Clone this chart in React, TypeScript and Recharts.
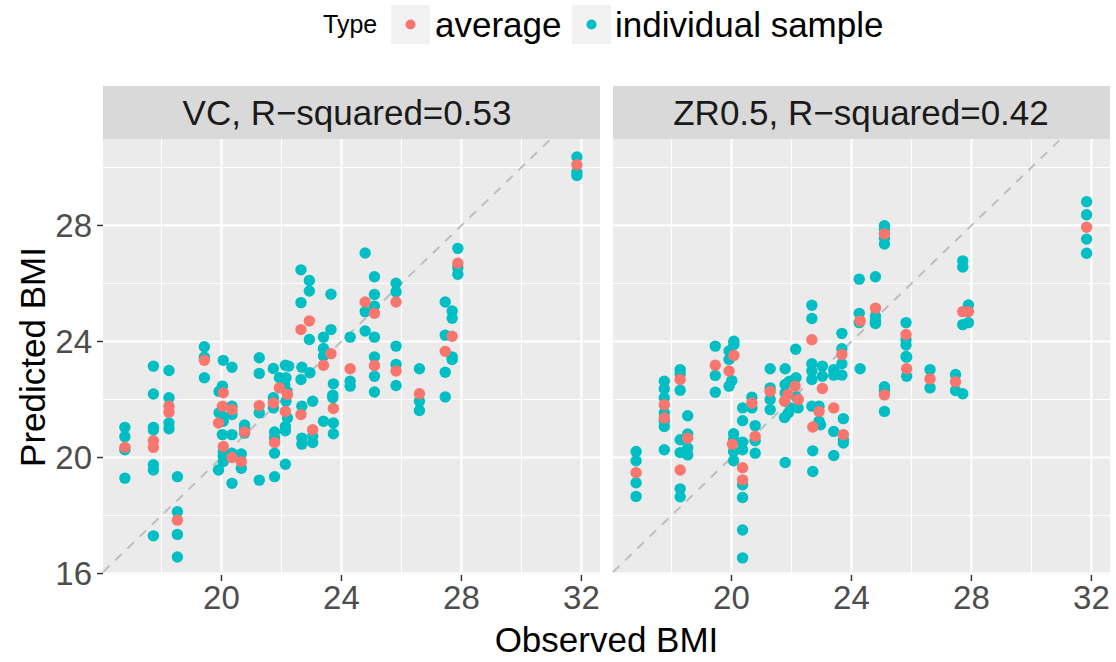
import React from 'react';
import { ScatterChart, Scatter, XAxis, YAxis, ReferenceLine, CartesianGrid } from 'recharts';

// ---------- data ----------
const xTicks = [20, 24, 28, 32];
const yTicks = [16, 20, 24, 28];
const minorTicks = [18, 22, 26, 30];
const xDomain = [16.05, 32.62];
const yDomain = [15.95, 30.98];
const panelTitles = ['VC, R\u2212squared=0.53', 'ZR0.5, R\u2212squared=0.42'];
const legendTitle = 'Type';
const legendLabels = ['average', 'individual sample'];
const colors = ['#F8766D', '#00BFC4'];

const vcAverage = [
  [16.78, 20.35], [17.73, 20.58], [17.73, 20.35], [18.25, 21.77], [18.25, 21.56], [18.53, 17.84],
  [19.43, 23.35], [20.06, 22.23], [20.03, 21.77], [19.9, 21.19], [20.06, 20.38], [20.35, 21.65],
  [20.35, 20.0], [20.66, 19.86], [20.77, 20.88], [21.26, 21.79], [21.73, 21.88], [21.77, 20.52],
  [21.93, 22.4], [22.2, 22.17], [22.13, 21.59], [22.65, 24.41], [22.65, 21.48], [22.93, 24.71],
  [23.04, 20.96], [23.4, 23.18], [23.65, 23.58], [23.73, 21.69], [24.29, 23.06], [24.79, 25.36],
  [25.1, 24.97], [25.1, 23.17], [25.82, 25.36], [25.82, 22.98], [26.6, 22.2], [27.46, 23.66],
  [27.69, 24.18], [27.88, 26.7], [31.85, 30.09],
];

const vcSample = [
  [16.78, 21.04], [16.78, 20.72], [16.78, 20.27], [16.78, 19.29],
  [17.73, 23.15], [17.73, 22.19], [17.73, 21.04], [17.73, 20.95], [17.73, 19.75], [17.73, 19.57], [17.73, 17.3],
  [18.25, 23.0], [18.25, 22.06], [18.25, 21.19], [18.25, 20.99],
  [18.53, 19.34], [18.53, 18.13], [18.53, 17.35], [18.53, 16.57],
  [19.43, 23.82], [19.43, 23.46], [19.43, 22.75],
  [20.06, 23.35], [20.03, 22.46], [19.92, 22.28], [19.92, 21.54], [20.03, 21.42], [20.06, 21.25],
  [20.03, 20.79], [20.06, 20.2], [20.06, 20.05], [20.06, 19.86], [19.9, 19.57],
  [20.35, 23.11], [20.35, 21.77], [20.35, 21.48], [20.35, 20.79], [20.35, 20.15], [20.35, 19.11],
  [20.66, 20.12], [20.66, 19.63],
  [20.77, 21.12], [20.77, 21.02], [20.77, 20.84],
  [21.26, 23.44], [21.26, 22.9], [21.26, 21.54], [21.26, 19.22],
  [21.73, 23.07], [21.73, 22.06], [21.73, 21.71],
  [21.77, 20.88], [21.77, 20.67], [21.77, 20.15], [21.77, 19.34],
  [22.13, 23.18], [22.24, 23.15], [21.93, 22.75], [22.15, 22.75], [22.11, 22.5], [22.15, 21.94],
  [22.18, 22.28], [22.2, 21.36], [22.13, 21.07], [22.13, 20.92], [22.13, 19.77],
  [22.65, 26.47], [22.65, 25.34], [22.68, 23.11], [22.65, 22.69], [22.68, 21.77], [22.68, 20.67], [22.68, 20.46],
  [22.93, 26.1], [22.93, 25.74], [22.93, 24.07], [22.95, 22.92],
  [23.04, 21.94], [23.04, 20.73], [23.04, 20.52],
  [23.4, 24.15], [23.4, 23.76], [23.4, 23.5], [23.4, 21.25],
  [23.65, 25.63], [23.65, 24.41],
  [23.73, 22.54], [23.71, 22.15], [23.71, 22.06], [23.73, 21.19], [23.73, 20.82],
  [24.29, 24.15], [24.29, 22.63], [24.29, 22.46],
  [24.79, 27.05], [24.79, 25.03], [24.79, 24.36],
  [25.1, 26.23], [25.1, 25.62], [25.1, 25.22], [25.1, 24.15], [25.1, 23.47], [25.1, 22.8], [25.1, 22.26],
  [25.82, 26.01], [25.82, 25.71], [25.82, 23.84], [25.82, 23.21], [25.82, 22.48],
  [26.6, 23.06], [26.6, 21.94], [26.6, 21.62],
  [27.46, 25.36], [27.46, 24.22], [27.46, 22.94], [27.46, 22.09],
  [27.69, 25.05], [27.69, 24.8], [27.69, 23.47], [27.69, 23.38],
  [27.88, 27.21], [27.88, 26.55], [27.88, 26.32],
  [31.85, 30.36], [31.85, 29.84], [31.85, 29.72],
];

const zrAverage = [
  [16.82, 19.48], [17.76, 21.82], [17.76, 21.36], [18.29, 22.69], [18.29, 19.57], [18.54, 20.67],
  [19.46, 23.18], [19.92, 22.98], [20.08, 23.52], [20.03, 20.46], [20.37, 19.65], [20.37, 19.23],
  [20.68, 21.88], [20.79, 20.73], [21.29, 22.28], [21.77, 21.94], [21.88, 22.17], [22.12, 22.46],
  [22.23, 22.0], [22.68, 24.06], [22.71, 21.05], [23.03, 22.38], [22.92, 21.59], [23.41, 21.71],
  [23.68, 23.55], [23.73, 20.79], [24.29, 24.71], [24.8, 25.15], [25.1, 27.71], [25.1, 22.16],
  [25.82, 24.24], [25.84, 23.06], [26.62, 22.71], [27.47, 22.61], [27.71, 25.03], [27.9, 25.03],
  [31.84, 27.94],
];

const zrSample = [
  [16.82, 20.21], [16.82, 19.89], [16.82, 19.13], [16.82, 18.66],
  [17.76, 22.63], [17.76, 22.37], [17.76, 22.06], [17.76, 21.54], [17.76, 21.25], [17.76, 21.07], [17.76, 20.27],
  [18.29, 23.03], [18.29, 22.88], [18.29, 22.32], [18.29, 20.61], [18.29, 20.17], [18.29, 18.92], [18.29, 18.65],
  [18.54, 21.44], [18.54, 20.81], [18.54, 20.33], [18.54, 20.09],
  [19.46, 23.84], [19.46, 22.83], [19.46, 22.25],
  [20.08, 24.01], [20.08, 23.9], [19.92, 23.67], [19.92, 23.38], [19.92, 22.46], [20.01, 22.65],
  [20.07, 20.82], [20.07, 20.61], [20.07, 20.21], [20.07, 19.89],
  [20.37, 21.71], [20.37, 21.27], [20.37, 20.53], [20.37, 20.27], [20.37, 19.06], [20.37, 18.62], [20.37, 17.5], [20.37, 16.54],
  [20.68, 22.08], [20.68, 21.71],
  [20.79, 21.1], [20.79, 20.58], [20.79, 20.15],
  [21.29, 23.06], [21.29, 22.4], [21.29, 22.0], [21.29, 21.65],
  [21.79, 23.06], [21.79, 22.52], [21.79, 22.23], [21.77, 21.38], [21.79, 19.83],
  [22.15, 22.75], [21.93, 22.63], [21.98, 21.71], [22.22, 21.71], [21.9, 21.54], [22.15, 22.1], [22.14, 23.73],
  [22.68, 25.25], [22.68, 24.79], [22.68, 23.23], [22.68, 22.98], [22.68, 22.69], [22.68, 21.77],
  [22.71, 20.23], [22.71, 19.52],
  [23.03, 23.15], [23.03, 22.8],
  [22.92, 21.77], [22.92, 21.25], [22.97, 21.13],
  [23.41, 23.03], [23.41, 22.84], [23.41, 20.9], [23.41, 20.07],
  [23.68, 24.28], [23.68, 23.75], [23.68, 23.23], [23.68, 22.84],
  [23.73, 21.34], [23.73, 20.61], [23.73, 20.5],
  [24.26, 26.15], [24.26, 24.97], [24.26, 24.65], [24.29, 23.06],
  [24.8, 26.23], [24.8, 24.88], [24.8, 24.71], [24.8, 24.62],
  [25.1, 27.99], [25.1, 27.88], [25.1, 27.56], [25.1, 27.36], [25.1, 22.44], [25.1, 22.32], [25.1, 21.59],
  [25.82, 24.65], [25.82, 24.07], [25.82, 23.88], [25.82, 23.48], [25.84, 23.46], [25.84, 22.8],
  [26.62, 23.03], [26.62, 22.4],
  [27.47, 22.86], [27.47, 22.31],
  [27.71, 26.78], [27.71, 26.57], [27.71, 24.58], [27.71, 22.2],
  [27.9, 25.26], [27.9, 24.65],
  [31.84, 28.82], [31.84, 28.37], [31.84, 27.53], [31.84, 27.04],
];

// ---------- helpers ----------
const FONT = '"Liberation Sans", Arial, Helvetica, sans-serif';
const toPoints = (arr: number[][]) => arr.map(([x, y]) => ({ x, y }));

const dot = (color: string) => (props: any) => (
  <circle cx={props.cx} cy={props.cy} r={5.7} fill={color} />
);

type PanelProps = {
  average: number[][];
  sample: number[][];
  marginLeft: number;
  marginRight: number;
  showY: boolean;
};

function Panel({ average, sample, marginLeft, marginRight, showY }: PanelProps) {
  return (
    <div style={{ position: 'absolute', left: 0, top: 0 }}>
      <ScatterChart
        width={1116}
        height={662}
        margin={{ top: 139, right: marginRight, bottom: 47, left: marginLeft }}
      >
        <CartesianGrid fill="#EBEBEB" fillOpacity={1} horizontal={false} vertical={false} />
        {minorTicks.map((v) => (
          <ReferenceLine key={'mx' + v} x={v} stroke="#FFFFFF" strokeWidth={1.1} />
        ))}
        {minorTicks.map((v) => (
          <ReferenceLine key={'my' + v} y={v} stroke="#FFFFFF" strokeWidth={1.1} />
        ))}
        {xTicks.map((v) => (
          <ReferenceLine key={'Mx' + v} x={v} stroke="#FFFFFF" strokeWidth={2.2} />
        ))}
        {yTicks.map((v) => (
          <ReferenceLine key={'My' + v} y={v} stroke="#FFFFFF" strokeWidth={2.2} />
        ))}
        <ReferenceLine
          segment={[{ x: 16.05, y: 16.05 }, { x: 30.98, y: 30.98 }]}
          stroke="#BEBEBE"
          strokeWidth={2}
          strokeDasharray="9 8"
          ifOverflow="visible"
        />
        <XAxis
          type="number"
          dataKey="x"
          domain={xDomain}
          ticks={xTicks}
          interval={0}
          allowDataOverflow
          height={40}
          axisLine={false}
          tickSize={6}
          tickMargin={5}
          tickLine={{ stroke: '#333333', strokeWidth: 1.5 }}
          tick={{ fontSize: 33, fill: '#4D4D4D', fontFamily: FONT }}
        />
        <YAxis
          type="number"
          dataKey="y"
          domain={yDomain}
          ticks={yTicks}
          interval={0}
          allowDataOverflow
          hide={!showY}
          width={showY ? 103 : 0}
          axisLine={false}
          tickSize={6}
          tickMargin={5}
          tickLine={{ stroke: '#333333', strokeWidth: 1.5 }}
          tick={{ fontSize: 33, fill: '#4D4D4D', fontFamily: FONT }}
        />
        <Scatter data={toPoints(sample)} shape={dot(colors[1])} isAnimationActive={false} />
        <Scatter data={toPoints(average)} shape={dot(colors[0])} isAnimationActive={false} />
      </ScatterChart>
    </div>
  );
}

function Overlay() {
  return (
    <svg width={1116} height={662} style={{ position: 'absolute', left: 0, top: 0 }} fontFamily={FONT}>
      <rect x={0} y={0} width={1116} height={662} fill="#FFFFFF" />
      {/* legend */}
      <text x={323} y={33} fontSize={25} fill="#000000">{legendTitle}</text>
      <rect x={391} y={5} width={39} height={39} fill="#F2F2F2" />
      <circle cx={410.5} cy={24.5} r={5} fill={colors[0]} />
      <text x={435} y={37} fontSize={35} fill="#000000">{legendLabels[0]}</text>
      <rect x={572} y={5} width={39} height={39} fill="#F2F2F2" />
      <circle cx={591.5} cy={24.5} r={5} fill={colors[1]} />
      <text x={615} y={37} fontSize={35} fill="#000000">{legendLabels[1]}</text>
      {/* strips */}
      <rect x={103} y={86} width={497} height={53} fill="#D9D9D9" />
      <rect x={613} y={86} width={497} height={53} fill="#D9D9D9" />
      <text x={347} y={125} fontSize={35} fill="#1A1A1A" textAnchor="middle">{panelTitles[0]}</text>
      <text x={861} y={125} fontSize={35} fill="#1A1A1A" textAnchor="middle">{panelTitles[1]}</text>
      {/* axis titles */}
      <text x={606.5} y={652} fontSize={35} fill="#000000" textAnchor="middle">Observed BMI</text>
      <text
        x={0}
        y={0}
        fontSize={35}
        fill="#000000"
        textAnchor="middle"
        transform="translate(45,357) rotate(-90)"
      >
        Predicted BMI
      </text>
    </svg>
  );
}

export default function App() {
  return (
    <div style={{ position: 'absolute', left: 0, top: 0, width: 1116, height: 662, fontFamily: FONT, background: '#FFFFFF' }}>
      <Overlay />
      <Panel average={vcAverage} sample={vcSample} marginLeft={0} marginRight={516} showY={true} />
      <Panel average={zrAverage} sample={zrSample} marginLeft={613} marginRight={6} showY={false} />
    </div>
  );
}
